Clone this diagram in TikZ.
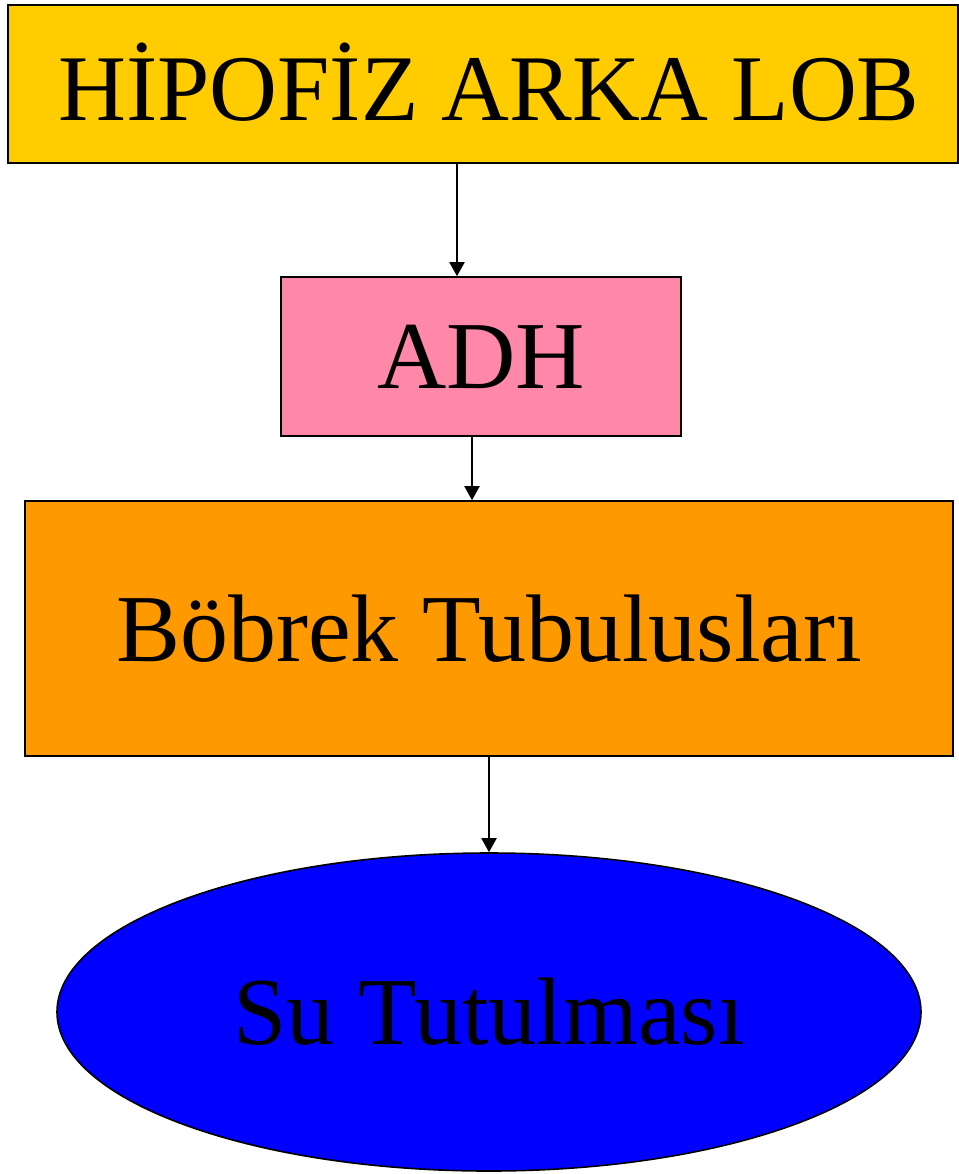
\documentclass[tikz,border=0pt]{standalone}
\usepackage{fontspec}
\setmainfont{Liberation Serif}
\usetikzlibrary{arrows.meta, shapes.geometric}

\definecolor{lobyellow}{HTML}{FFCC00}
\definecolor{adhpink}{HTML}{FF88A8}
\definecolor{tuborange}{HTML}{FF9900}
\definecolor{sublue}{HTML}{0000FF}

\begin{document}
\begin{tikzpicture}[
    box/.style={rectangle, draw=black, line width=0.8pt, align=center, font=\fontsize{48}{56}\selectfont, inner sep=0pt},
    arr/.style={-{Triangle[width=7.5pt, length=7pt]}, draw=black, line width=1pt}
  ]
    \useasboundingbox (0,0) rectangle (479.5pt,-587pt);
    \node[box, fill=lobyellow, minimum width=475pt, minimum height=79pt, text depth=2.5pt, font=\fontsize{47}{56}\selectfont] (lob) at (241.5pt,-42pt) {\hspace*{6pt}HİPOFİZ ARKA LOB};
    \node[box, fill=adhpink, minimum width=200pt, minimum height=79.5pt] (adh) at (240.5pt,-178.25pt) {ADH};
    \node[box, fill=tuborange, minimum width=464pt, minimum height=127.5pt] (tubul) at (244.5pt,-314.25pt) {Böbrek Tubulusları};
    \node[box, ellipse, fill=sublue, minimum width=432pt, minimum height=159pt] (su) at (244.5pt,-506pt) {Su Tutulması};
    \draw[arr] ([xshift=-13pt]lob.south) -- ([xshift=-12pt]adh.north);
    \draw[arr] ([xshift=-4.5pt]adh.south) -- ([xshift=-8.5pt]tubul.north);
    \draw[arr] (tubul.south) -- (su.north);
  \end{tikzpicture}
\end{document}
